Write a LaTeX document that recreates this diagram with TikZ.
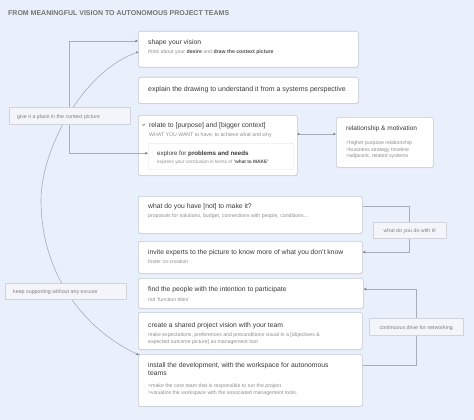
\documentclass[tikz,border=0pt]{standalone}
\usepackage{fontspec}
\setmainfont{Liberation Sans}
\usetikzlibrary{shadows,arrows.meta}
\definecolor{bg}{HTML}{E9EFFB}
\definecolor{boxline}{HTML}{C4C9D2}
\definecolor{lblfill}{HTML}{F4F5FA}
\definecolor{lblline}{HTML}{D0D3DB}
\definecolor{ttlc}{HTML}{3A3A3A}
\definecolor{subc}{HTML}{8E8E8E}
\definecolor{subb}{HTML}{505050}
\definecolor{connc}{HTML}{A8ADB7}
\definecolor{headc}{HTML}{7A7F88}
\begin{document}
\begin{tikzpicture}[x=1pt,y=-1pt,
  card/.style={draw=boxline, fill=white, rounded corners=1.5pt, line width=0.6pt,
    drop shadow={opacity=0.12, shadow xshift=0pt, shadow yshift=-0.9pt},
    inner sep=0pt, anchor=north west},
  lbl/.style={draw=lblline, fill=lblfill, line width=0.5pt, inner sep=0pt, anchor=north west},
  txt/.style={inner sep=0pt, anchor=west, text height=0.72em, text depth=0.2em},
  ttl/.style={txt, text=ttlc, font=\fontsize{6.8}{8}\selectfont},
  sub/.style={txt, text=subc, font=\fontsize{5.2}{6}\selectfont},
  lbltxt/.style={txt, text=subc!90!black, font=\fontsize{5.3}{6}\selectfont},
  conn/.style={draw=connc, line width=0.6pt},
  tip/.style={-{Stealth[length=3pt,width=2.6pt,color=headc]}},
  bb/.style={}
]
\useasboundingbox (0,0) rectangle (474,420);
\fill[bg] (0,0) rectangle (474,420);

\node[txt, anchor=west, text=black!55, font=\bfseries\fontsize{7}{8}\selectfont] (title) at (8,13) {FROM MEANINGFUL VISION TO AUTONOMOUS PROJECT TEAMS};

% cards
\node[card, minimum width=220pt, minimum height=36pt] (b1) at (138,31) {};
\node[card, minimum width=220pt, minimum height=26pt] (b2) at (138,77) {};
\node[card, minimum width=159pt, minimum height=60pt] (b3) at (138,115) {};
\node[draw=boxline!60, fill=white, line width=0.4pt, rounded corners=1pt, inner sep=0pt, anchor=north west, minimum width=145pt, minimum height=26pt] (b3i) at (148,143) {};
\node[card, minimum width=97pt, minimum height=50pt] (b4) at (336,117) {};
\node[card, minimum width=224pt, minimum height=37pt] (b6) at (138,196) {};
\node[card, minimum width=224pt, minimum height=32pt] (b7) at (138,241) {};
\node[card, minimum width=225pt, minimum height=30pt] (b9) at (138,278) {};
\node[card, minimum width=224pt, minimum height=37pt] (b10) at (138,312) {};
\node[card, minimum width=224pt, minimum height=52pt] (b13) at (138,354) {};

% connectors
\draw[conn, {Circle[length=2pt,color=headc]}-{Stealth[length=3pt,width=2.6pt,color=headc]}]
  ([yshift=-21pt]b1.north west) .. controls (82,72) and (41,150) .. (41,200)
  .. controls (41,275) and (85,330) .. ([xshift=1pt,yshift=-1pt]b13.north west);
\node[lbl, minimum width=121pt, minimum height=17pt] (L1) at (9,107) {};
\node[lbl, minimum width=121pt, minimum height=16pt] (L4) at (5,283) {};
\draw[conn, tip] (L1.center) |- ([yshift=-10pt]b1.north west);
\draw[conn, tip] (L1.center) |- ([yshift=3pt]b3i.west);
\node[lbl, minimum width=121pt, minimum height=17pt] (L1) at (9,107) {};
\node[lbl, minimum width=121pt, minimum height=16pt] (L4) at (5,283) {};
\node[lbltxt] (L1t) at (17,116) {give it a place in the context picture};
\node[lbltxt] (L4t) at (13,291) {keep supporting without any excuse};

\draw[conn, {Circle[length=2pt,color=headc]}-{Stealth[length=3pt,width=2.6pt,color=headc]}]
  ([yshift=-19pt]b3.north east) -- ([yshift=-19pt]b3.north east -| b4.west);

\node[lbl, minimum width=73pt, minimum height=16pt] (L2) at (373,222) {};
\draw[conn] (L2.center) |- ([yshift=-10pt]b6.north east);
\draw[conn, tip] (L2.center) |- ([yshift=-11pt]b7.north east);
\node[lbl, minimum width=73pt, minimum height=16pt] (L2) at (373,222) {};
\node[lbltxt, anchor=center] (L2t) at (L2.center) {what do you do with it!};

\node[lbl, minimum width=94pt, minimum height=17pt] (L3) at (369,318) {};
\draw[conn, tip] (L3.center) |- ([yshift=-11pt]b9.north east);
\draw[conn] (L3.center) |- ([yshift=-11pt]b13.north east);
\node[lbl, minimum width=94pt, minimum height=17pt] (L3) at (369,318) {};
\node[lbltxt, anchor=center] (L3t) at (L3.center) {continuous drive for networking};

% texts
\node[ttl] (b1t) at (148,41.5) {shape your vision};
\node[sub] (b1s) at (148,51) {think about your \textcolor{subb}{\textbf{desire}} and \textcolor{subb}{\textbf{draw the context picture}}};
\node[ttl, font=\fontsize{7}{8}\selectfont] (b2t) at (148,89) {explain the drawing to understand it from a systems perspective};
\draw[headc, line width=0.4pt] (142,124) -- (143.5,125.5) -- (145,124);
\node[ttl] (b3t) at (149,125) {relate to [purpose] and [bigger context]};
\node[sub] (b3s) at (149,134) {WHAT YOU WANT to have, to achieve what and why};
\node[ttl, font=\fontsize{6.2}{7}\selectfont] (b3it) at (157,153) {explore for \textbf{problems and needs}};
\node[sub, font=\fontsize{4.8}{6}\selectfont] (b3is) at (157,161) {express your conclusion in terms of \textcolor{subb}{\textbf{'what to MAKE'}}};
\node[ttl, font=\fontsize{6.5}{8}\selectfont] (b4t) at (346,128) {relationship \& motivation};
\node[sub] (b4s1) at (346,142) {>higher purpose relationship};
\node[sub] (b4s2) at (346,148.5) {>business strategy timeline};
\node[sub] (b4s3) at (346,155) {>adjacent, related systems};
\node[ttl] (b6t) at (148,206) {what do you have [not] to make it?};
\node[sub] (b6s) at (148,215) {proposals for solutions, budget, connections with people, conditions...};
\node[ttl] (b7t) at (148,252) {invite experts to the picture to know more of what you don’t know};
\node[sub] (b7s) at (148,261) {foster co-creation};
\node[ttl] (b9t) at (148,289) {find the people with the intention to participate};
\node[sub] (b9s) at (148,299) {not 'function titles'};
\node[ttl] (b10t) at (148,325) {create a shared project vision with your team};
\node[sub] (b10s1) at (148,334) {make expectations, preferences and preconditions visual in a [objectives \&};
\node[sub] (b10s2) at (148,340.5) {expected outcome picture] as management tool};
\node[ttl] (b13t1) at (148,365) {install the development, with the workspace for autonomous};
\node[ttl] (b13t2) at (148,373) {teams};
\node[sub] (b13s1) at (148,385) {>make the core team that is responsible to run the project};
\node[sub] (b13s2) at (148,391.5) {>visualize the workspace with the associated management tools.};
\end{tikzpicture}
\end{document}
